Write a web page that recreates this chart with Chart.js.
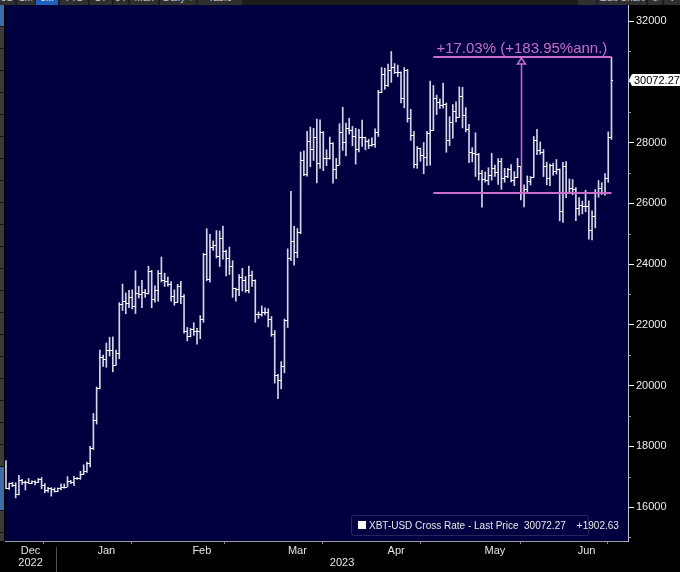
<!DOCTYPE html>
<html>
<head>
<meta charset="utf-8">
<title>XBT-USD</title>
<script src="https://cdn.jsdelivr.net/npm/chart.js@4.4.1/dist/chart.umd.min.js"></script>
<style>
  html, body { margin: 0; padding: 0; background: #000; }
  #wrap { position: relative; width: 680px; height: 572px; overflow: hidden; background: #000;
          font-family: 'Liberation Sans Narrow', 'Liberation Sans', Arial, sans-serif; }
  #chartBox { position: absolute; left: 0; top: 0; width: 680px; height: 572px; }
  #topbar { position: absolute; left: 0; top: 0; width: 680px; height: 5px; background: #1c1c1c; overflow: hidden; z-index: 3; }
  #topbar span { position: absolute; top: -9px; height: 14px; line-height: 14px; font-size: 10px; color: #c8c8c8;
                 background: #303030; text-align: center; }
  #topbar span.on { background: #1f5fbf; color: #fff; }
  #sidebar { position: absolute; left: 0; top: 5px; width: 4px; height: 536px; z-index: 3;
             background: repeating-linear-gradient(to bottom, #3b3b3b 0 21px, #141414 21px 22px); }
  #sidebar .blue { position: absolute; left: 0; width: 4px; background: #3c6da8; }
  #legendBox { position: absolute; left: 351px; top: 515px; width: 236px; height: 19px; z-index: 3;
               border: 1px solid #26265e; border-radius: 3px; background: #000040; color: #e8e8e8;
               font-size: 10px; line-height: 19px; white-space: pre; }
  #legendBox .sw { position: absolute; left: 6px; top: 5px; width: 8px; height: 8px; background: #fff; }
  #legendBox .txt { position: absolute; left: 17px; top: 0; }
</style>
</head>
<body>
<div id="wrap">
  <div id="chartBox"><canvas id="chart"></canvas></div>
  <div id="topbar">
    <span style="left:0;width:15px">3D</span>
    <span style="left:17px;width:18px">1M</span>
    <span class="on" style="left:36px;width:22px">6M</span>
    <span style="left:60px;width:28px">YTD</span>
    <span style="left:90px;width:22px">1Y</span>
    <span style="left:114px;width:14px">5Y</span>
    <span style="left:130px;width:28px">Max</span>
    <span style="left:160px;width:36px">Daily ▾</span>
    <span style="left:198px;width:44px">Table</span>
    <span style="left:578px;width:18px">« »</span>
    <span style="left:598px;width:48px">Edit Chart</span>
    <span style="left:648px;width:14px">⚙</span>
    <span style="left:664px;width:16px">✥</span>
  </div>
  <div id="sidebar">
    <div class="blue" style="top:0;height:21px"></div>
    <div class="blue" style="top:462px;height:43px"></div>
  </div>
  <div id="legendBox"><span class="sw"></span><span class="txt" id="legendText"></span></div>
</div>

<script>
// XBT-USD daily bars, 16 Dec 2022 -> 21 Jun 2023
const firstDay = [2022, 11, 16];
const seriesName = 'XBT-USD Cross Rate - Last Price';

const openPx = [
  17360, 16630, 16780, 16740, 16440, 16900, 16820, 16830, 16780, 16840, 16830, 16920, 16710, 16550, 16630, 16600,
  16540, 16620, 16670, 16670, 16850, 16830, 16950, 16950, 17090, 17190, 17440, 17940, 18850, 19930, 20950, 20870,
  21170, 21160, 20690, 21080, 22680, 22780, 22710, 22930, 22630, 23060, 23020, 23080, 23030, 23770, 22840,
  23140, 23720, 23490, 23430, 23330, 22940, 22760, 23260, 22950, 21800, 21630, 21860, 21790, 21780, 22200, 24330,
  23520, 24570, 24630, 24280, 24840, 24440, 24190, 23950, 23200, 23170, 23560, 23490,
  23150, 23650, 23470, 22360, 22350, 22430, 22410, 22200, 21700, 20360, 20190, 20630, 22160, 24200, 24750, 24380,
  25060, 27420, 26970, 28040, 27770, 28170, 27310, 28330, 27490, 27490, 28000, 27140, 27270, 28350, 28030,
  28480, 28410, 28200, 27790, 28170, 28180, 28040, 27920, 27950, 28330, 29650, 30240, 29900, 30400, 30490, 30320,
  30320, 29450, 30400, 28820, 28250, 27280, 27820, 27600, 27520, 28310, 28420, 29480, 29340, 29250,
  29270, 28090, 28680, 29030, 28850, 29540, 28900, 28450, 27690, 27660, 27620, 26990, 26810, 26780, 26930, 27170,
  27040, 27400, 26830, 26890, 27120, 26750, 26850, 27220, 26330, 26470, 26720, 26870, 28090, 27740, 27700,
  27220, 26820, 27250, 27070, 27120, 25760, 27240, 26350, 26500, 26480, 25850, 25940, 25900, 25920, 25120, 25580,
  26330, 26510, 26340, 26840, 28170
];
const highPx = [
  17530, 16790, 16810, 16800, 17040, 16910, 16860, 16940, 16860, 16860, 16940, 16970, 16770, 16650, 16640, 16630,
  16630, 16760, 16760, 17000, 16880, 17010, 16970, 17180, 17390, 17480, 18000, 19080, 19950, 21170, 21000, 21400,
  21590, 21600, 21170, 22730, 23340, 23050, 23130, 23150, 23780, 23270, 23460, 23160, 23930, 23790, 23280,
  23780, 24230, 23700, 23570, 23420, 23150, 23330, 23430, 22990, 21910, 21880, 22070, 21880, 22300, 24350, 25160,
  24980, 24760, 25100, 25090, 25250, 24460, 24560, 24110, 23210, 23650, 23860, 23590,
  23930, 23770, 23480, 22420, 22620, 22560, 22530, 22270, 21810, 20370, 20790, 22190, 24500, 26390, 25240, 25170,
  27690, 27730, 28370, 28510, 28470, 28770, 28750, 28360, 27760, 28180, 28000, 27480, 28620, 29160, 28640,
  28800, 28530, 28470, 28430, 28740, 28180, 28110, 28150, 28450, 29720, 30470, 30450, 30580, 31000, 30600, 30550,
  30330, 30470, 30410, 29090, 28370, 27870, 27820, 28000, 28370, 30020, 29880, 29560, 29440, 29960,
  29300, 28850, 29250, 29340, 29830, 29820, 29150, 28600, 27830, 28320, 27640, 27080, 27030, 27170, 27640, 27260,
  27470, 27480, 27150, 27150, 27270, 27040, 27480, 27220, 26610, 26900, 26880, 28200, 28430, 28020, 27770,
  27350, 27290, 27320, 27440, 27130, 27350, 27370, 26800, 26780, 26520, 26190, 26070, 26430, 26080, 25750, 26450,
  26750, 26680, 26980, 28350, 30810
];
const lowPx = [
  16600, 16580, 16670, 16300, 16400, 16740, 16560, 16770, 16770, 16730, 16800, 16600, 16470, 16490, 16360, 16490,
  16500, 16560, 16620, 16660, 16770, 16700, 16910, 16910, 17080, 17140, 17320, 17890, 18730, 19890, 20630, 20600,
  20970, 20450, 20670, 20880, 22470, 22360, 22560, 22520, 22370, 22880, 22560, 22900, 23010, 22560, 22740,
  22780, 23410, 23260, 23270, 22780, 22640, 22750, 22690, 21720, 21470, 21600, 21650, 21360, 21540, 22080, 23450,
  23400, 24450, 24200, 23920, 24160, 23610, 23650, 22900, 22780, 22960, 23110, 23070,
  23050, 23260, 22080, 22210, 22280, 22320, 21930, 21620, 20080, 19570, 19890, 20420, 21910, 24110, 23960, 24210,
  25000, 26910, 26890, 27200, 27410, 26670, 27150, 27070, 27240, 27450, 26660, 26810, 27260, 27740, 27560,
  28280, 27890, 27290, 27690, 27870, 27760, 27800, 27880, 27850, 28200, 29640, 29750, 29850, 29980, 30270, 30170,
  29300, 29140, 28670, 28070, 27160, 27150, 27380, 26970, 27240, 27250, 28390, 28920, 29120, 29130,
  27680, 27900, 28140, 28680, 28820, 28480, 28350, 27340, 27360, 26880, 26760, 25870, 26700, 26610, 26760, 26880,
  26620, 26460, 26690, 26840, 26700, 26580, 26840, 26110, 25880, 26350, 26600, 26860, 27600, 27610, 26880,
  26610, 26580, 26920, 26960, 25420, 25370, 26180, 26320, 26280, 25430, 25610, 25650, 25720, 24820, 24790, 25190,
  26200, 26290, 26270, 26690, 28100
];
const closePx = [
  16630, 16780, 16740, 16440, 16900, 16820, 16830, 16780, 16840, 16830, 16920, 16710, 16550, 16630, 16600, 16540,
  16620, 16670, 16670, 16850, 16830, 16950, 16950, 17090, 17190, 17440, 17940, 18850, 19930, 20950, 20870, 21170,
  21160, 20690, 21080, 22680, 22780, 22710, 22930, 22630, 23060, 23020, 23080, 23030, 23770, 22840, 23140,
  23720, 23490, 23430, 23330, 22940, 22760, 23260, 22950, 21800, 21630, 21860, 21790, 21780, 22200, 24330, 23520,
  24570, 24630, 24280, 24840, 24440, 24190, 23950, 23200, 23170, 23560, 23490, 23150,
  23650, 23470, 22360, 22350, 22430, 22410, 22200, 21700, 20360, 20190, 20630, 22160, 24200, 24750, 24380, 25060,
  27420, 26970, 28040, 27770, 28170, 27310, 28330, 27490, 27490, 28000, 27140, 27270, 28350, 28030, 28480,
  28410, 28200, 27790, 28170, 28180, 28040, 27920, 27950, 28330, 29650, 30240, 29900, 30400, 30490, 30320, 30320,
  29450, 30400, 28820, 28250, 27280, 27820, 27600, 27520, 28310, 28420, 29480, 29340, 29250, 29270,
  28090, 28680, 29030, 28850, 29540, 28900, 28450, 27690, 27660, 27620, 26990, 26810, 26780, 26930, 27170, 27040,
  27400, 26830, 26890, 27120, 26750, 26850, 27220, 26330, 26470, 26720, 26870, 28090, 27740, 27700, 27220,
  26820, 27250, 27070, 27120, 25760, 27240, 26350, 26500, 26480, 25850, 25940, 25900, 25920, 25120, 25580, 26330,
  26510, 26340, 26840, 28169.64, 30072.27
];

// price-change study drawn on the chart
const annoFromIdx = 132;   // 27 Apr 2023
const annoBaseIdx = 159;   // 24 May 2023 close
const annoToIdx = 187;     // 21 Jun 2023
const annoPct = 17.03;
const annoAnn = 183.95;

const monthNames = ['Jan', 'Feb', 'Mar', 'Apr', 'May', 'Jun', 'Jul', 'Aug', 'Sep', 'Oct', 'Nov', 'Dec'];
const yTickValues = [16000, 18000, 20000, 22000, 24000, 26000, 28000, 30000, 32000];
const yMinorValues = [15000, 17000, 19000, 21000, 23000, 25000, 27000, 29000, 31000];

// axis window
const xMin = -0.3, xMax = 192.1;
const yMin = 14881, yMax = 32527;

const NAVY = '#000040';
const MAGENTA = '#c86ec8';
const AXIS_FONT = "'Liberation Sans Narrow', 'Liberation Sans', Arial, sans-serif";

// month / year groups from the day index
const dayCount = closePx.length;
function dayDate(i) {
    return new Date(Date.UTC(firstDay[0], firstDay[1], firstDay[2] + i));
}
const months = [];
for (let i = 0; i < dayCount; i++) {
    const d = dayDate(i);
    const key = d.getUTCFullYear() * 12 + d.getUTCMonth();
    if (!months.length || months[months.length - 1].key !== key) {
        const daysIn = new Date(Date.UTC(d.getUTCFullYear(), d.getUTCMonth() + 1, 0)).getUTCDate();
        months.push({ key, start: i, end: i + daysIn - d.getUTCDate(),
                      name: monthNames[d.getUTCMonth()], year: d.getUTCFullYear() });
    }
}
const boundaries = months.slice(1).map(m => m.start - 0.5);
const centers = months.map(m => (Math.max(m.start - 0.5, xMin) + Math.min(m.end + 0.5, xMax)) / 2);
const centerLabel = {};
months.forEach((m, k) => { centerLabel[centers[k].toFixed(3)] = m.name; });

const years = [];
months.forEach(m => {
    const last = years[years.length - 1];
    if (!last || last.year !== m.year) years.push({ year: m.year, from: m.start - 0.5, to: m.end + 0.5 });
    else last.to = m.end + 0.5;
});

document.getElementById('legendText').textContent =
    seriesName + '  ' + closePx[dayCount - 1].toFixed(2) + '    +' +
    (closePx[dayCount - 1] - closePx[dayCount - 2]).toFixed(2);

const plotBackground = {
    id: 'plotBackground',
    beforeDraw(chart) {
        const { ctx, chartArea: a } = chart;
        ctx.save();
        ctx.fillStyle = NAVY;
        ctx.fillRect(a.left, a.top, a.right - a.left, a.bottom - a.top);
        ctx.restore();
    }
};

// open (left) and close (right) ticks of every bar
const ohlcTicks = {
    id: 'ohlcTicks',
    afterDatasetsDraw(chart) {
        const { ctx, chartArea: a, scales: { x, y } } = chart;
        ctx.save();
        ctx.beginPath();
        ctx.rect(a.left, a.top, a.right - a.left, a.bottom - a.top);
        ctx.clip();
        ctx.fillStyle = '#ffffff';
        for (let i = 0; i < dayCount; i++) {
            const px = Math.round(x.getPixelForValue(i));
            ctx.fillRect(px - 2, Math.round(y.getPixelForValue(openPx[i])), 2, 1);
            ctx.fillRect(px, Math.round(y.getPixelForValue(closePx[i])), 2, 1);
        }
        ctx.restore();
    }
};

const changeStudy = {
    id: 'changeStudy',
    afterDatasetsDraw(chart) {
        const { ctx, scales: { x, y } } = chart;
        const base = closePx[annoBaseIdx];
        const top = base * (1 + annoPct / 100);
        const x0 = x.getPixelForValue(annoFromIdx);
        const x1 = x.getPixelForValue(annoToIdx);
        const xa = Math.round(x.getPixelForValue(annoBaseIdx)) + 0.5;
        const yb = Math.round(y.getPixelForValue(base));
        const yt = Math.round(y.getPixelForValue(top));
        ctx.save();
        ctx.strokeStyle = MAGENTA;
        ctx.fillStyle = MAGENTA;
        ctx.fillRect(x0, yb - 1, x1 - x0, 2);
        ctx.fillRect(x0, yt - 1, x1 - x0, 2);
        ctx.lineWidth = 1.5;
        ctx.beginPath();
        ctx.moveTo(xa, yb);
        ctx.lineTo(xa, yt + 7);
        ctx.stroke();
        ctx.beginPath();
        ctx.moveTo(xa, yt + 1);
        ctx.lineTo(xa - 4, yt + 7);
        ctx.lineTo(xa + 4, yt + 7);
        ctx.closePath();
        ctx.fillStyle = NAVY;
        ctx.fill();
        ctx.stroke();
        ctx.fillStyle = MAGENTA;
        ctx.font = "15px 'Liberation Sans', Arial, sans-serif";
        ctx.textBaseline = 'alphabetic';
        ctx.fillText('+' + annoPct.toFixed(2) + '% (+' + annoAnn.toFixed(2) + '%ann.)', x0 + 3, yt - 4);
        ctx.restore();
    }
};

// minor y ticks, year row, last price flag
const axisExtras = {
    id: 'axisExtras',
    afterDraw(chart) {
        const { ctx, chartArea: a, scales: { x, y } } = chart;
        ctx.save();
        ctx.fillStyle = '#9a9a9a';
        yMinorValues.forEach(v => {
            ctx.fillRect(a.right, Math.round(y.getPixelForValue(v)), 3, 1);
        });

        ctx.font = '11px ' + AXIS_FONT;
        ctx.fillStyle = '#e4e4e4';
        ctx.textAlign = 'center';
        ctx.textBaseline = 'middle';
        years.forEach(yr => {
            const c = (Math.max(yr.from, xMin) + Math.min(yr.to, xMax)) / 2;
            ctx.fillText(String(yr.year), x.getPixelForValue(c), a.bottom + 22);
        });
        ctx.fillStyle = '#505050';
        for (let k = 1; k < years.length; k++) {
            ctx.fillRect(Math.round(x.getPixelForValue(years[k].from)), a.bottom + 6, 1, 31);
        }

        const last = closePx[dayCount - 1];
        const py = Math.round(y.getPixelForValue(last));
        ctx.fillStyle = '#ffffff';
        ctx.beginPath();
        ctx.moveTo(a.right + 1, py);
        ctx.lineTo(a.right + 4, py - 6);
        ctx.lineTo(680, py - 6);
        ctx.lineTo(680, py + 6);
        ctx.lineTo(a.right + 4, py + 6);
        ctx.closePath();
        ctx.fill();
        ctx.fillStyle = '#000000';
        ctx.textAlign = 'left';
        ctx.font = '11px ' + AXIS_FONT;
        ctx.fillText(last.toFixed(2), a.right + 6, py + 1);
        ctx.restore();
    }
};

new Chart(document.getElementById('chart'), {
    type: 'bar',
    data: {
        datasets: [{
            label: seriesName,
            data: highPx.map((h, i) => ({ x: i, y: [lowPx[i], h] })),
            backgroundColor: '#d4d4e6',
            borderWidth: 0,
            barThickness: 1,
            grouped: false
        }]
    },
    options: {
        responsive: true,
        maintainAspectRatio: false,
        animation: false,
        layout: { padding: { left: 5, top: 5, right: 0, bottom: 0 } },
        plugins: {
            legend: { display: false },
            tooltip: { enabled: false }
        },
        scales: {
            x: {
                type: 'linear',
                position: 'bottom',
                min: xMin,
                max: xMax,
                offset: false,
                afterFit(scale) {
                    scale.height = 31;
                    scale.paddingLeft = 0;
                    scale.paddingRight = 0;
                },
                afterBuildTicks(scale) {
                    scale.ticks = boundaries.concat(centers).sort((p, q) => p - q).map(v => ({ value: v }));
                },
                ticks: {
                    autoSkip: false,
                    maxRotation: 0,
                    minRotation: 0,
                    padding: 0,
                    color: '#e4e4e4',
                    font: { family: AXIS_FONT, size: 11 },
                    callback: v => centerLabel[Number(v).toFixed(3)] || ''
                },
                grid: {
                    drawOnChartArea: false,
                    tickLength: 3,
                    tickColor: c => (c.tick && centerLabel[Number(c.tick.value).toFixed(3)]) ? 'rgba(0,0,0,0)' : '#8a8a8a'
                },
                border: { display: true, color: '#9c9c9c' }
            },
            y: {
                type: 'linear',
                position: 'right',
                min: yMin,
                max: yMax,
                afterFit(scale) {
                    scale.width = 52;
                    scale.paddingTop = 0;
                    scale.paddingBottom = 0;
                },
                afterBuildTicks(scale) {
                    scale.ticks = yTickValues.map(v => ({ value: v }));
                },
                ticks: {
                    autoSkip: false,
                    padding: 2,
                    color: '#ececec',
                    font: { family: AXIS_FONT, size: 11 },
                    callback: v => String(v)
                },
                grid: {
                    drawOnChartArea: false,
                    tickLength: 6,
                    tickColor: '#ffffff'
                },
                border: { display: true, color: '#c4c4c4' }
            }
        }
    },
    plugins: [plotBackground, ohlcTicks, changeStudy, axisExtras]
});
</script>
</body>
</html>
